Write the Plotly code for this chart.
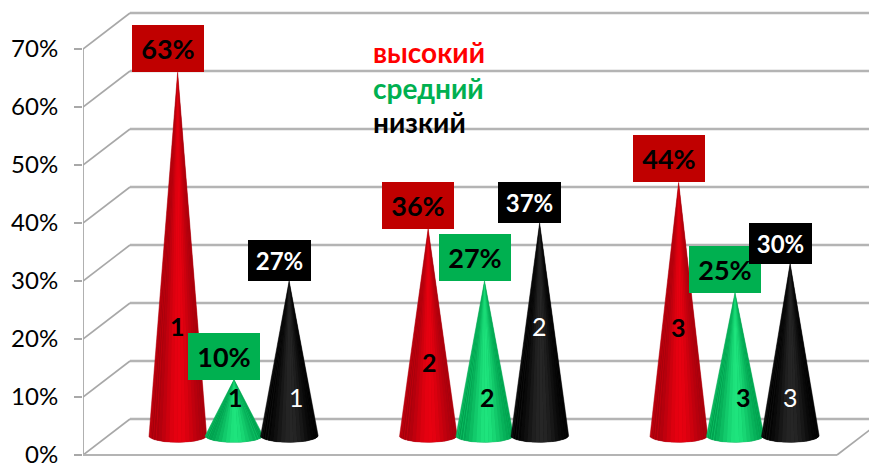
import math
import plotly.graph_objects as go

# ---- data ----
categories = [1, 2, 3]
vysokiy = [63, 36, 44]
sredniy = [10, 27, 25]
nizkiy = [27, 37, 30]
y_ticks = [0, 10, 20, 30, 40, 50, 60, 70]
tick_labels = ["0%", "10%", "20%", "30%", "40%", "50%", "60%", "70%"]

# ---- layout constants ----
W, H = 869, 465
LEFT = 83
PX_PER_UNIT = 5.8          # pixels per percentage point
PX_PER_CAT = 250.5
XMIN = 1 + (LEFT - 234) / PX_PER_CAT
XMAX = XMIN + (W - LEFT) / PX_PER_CAT
YMIN = -10 / PX_PER_UNIT
YMAX = 455 / PX_PER_UNIT
DX = 47 / PX_PER_CAT       # depth of the 3D box
DY = 36 / PX_PER_UNIT
BASE = 3.0                 # value origin above the floor's front edge
BASE_C = 3.35              # centre of the cone's base ellipse
OFFS = [-0.225, 0.0, 0.22]
HALF_W = 29 / PX_PER_CAT
ELL = 6.8 / PX_PER_UNIT
GRID = "#b4b4b4"
AXIS = "#a8a8a8"
FONT = "Lato, 'Open Sans', sans-serif"

SERIES = [
    dict(name="высокий", v=vysokiy, edge=(165, 0, 12), mid=(232, 0, 16), box="#C00000", txt="black", size=27,
         w=72, h=47, lbl_y=[22.2, 16, 22], lbl_dx=[0, 1, 0], bold=True, legend="#FF0000", ly=52),
    dict(name="средний", v=sredniy, edge=(0, 160, 78), mid=(30, 228, 125), box="#00B050", txt="black", size=27,
         w=72, h=47, lbl_y=[10, 10, 10], lbl_dx=[1, 3, 8], bold=True, legend="#00B050", ly=88),
    dict(name="низкий", v=nizkiy, edge=(0, 0, 0), mid=(38, 38, 38), box="#000000", txt="white", size=24,
         w=63, h=41, lbl_y=[10, 22.2, 10], lbl_dx=[7, 0, 0], bold=False, legend="#000000", ly=122),
]

fig = go.Figure()


def line(xs, ys, color=GRID, width=2.4):
    fig.add_trace(go.Scatter(x=xs, y=ys, mode="lines", line=dict(color=color, width=width),
                             hoverinfo="skip", showlegend=False, cliponaxis=False))


x0 = XMIN
for t in y_ticks:
    line([x0 + DX, XMAX + 0.1], [t + DY, t + DY], GRID, 2.6)
    line([x0, x0 + DX], [t, t + DY], AXIS, 1.6)
line([x0, x0], [0, 70], AXIS, 1.8)
line([x0, x0 + (837 - LEFT) / PX_PER_CAT], [0, 0], GRID, 2.2)
line([x0 + (837 - LEFT) / PX_PER_CAT, x0 + (837 - LEFT + DX * PX_PER_CAT) / PX_PER_CAT], [0, DY], AXIS, 1.6)


def shade(s, t):
    k = max(0.0, 1 - ((t - 0.06) / 1.06) ** 2) ** 3
    return "rgb(%d,%d,%d)" % tuple(round(a + (b - a) * k) for a, b in zip(s["edge"], s["mid"]))


STRIPS = 22
for s in SERIES:
    off = OFFS[SERIES.index(s)]
    for cat, val in zip(categories, s["v"]):
        cx = cat + off
        tip = val + BASE
        arc = [math.pi * j / 40 for j in range(41)]
        fig.add_trace(go.Scatter(
            x=[cx] + [cx - HALF_W * math.cos(a) for a in arc] + [cx],
            y=[tip] + [BASE_C - ELL * math.sin(a) for a in arc] + [tip],
            mode="lines", fill="toself", fillcolor=shade(s, 0.5),
            line=dict(color=shade(s, 1.0), width=0.5), hoverinfo="skip", showlegend=False))
        for i in range(STRIPS):
            a0 = math.pi * i / STRIPS
            a1 = math.pi * (i + 1) / STRIPS
            xs = [cx]
            ys = [tip]
            for j in range(5):
                a = a0 + (a1 - a0) * j / 4
                xs.append(cx - HALF_W * math.cos(a))
                ys.append(BASE_C - ELL * math.sin(a))
            xs.append(cx)
            ys.append(tip)
            col = shade(s, -math.cos((a0 + a1) / 2))
            fig.add_trace(go.Scatter(x=xs, y=ys, mode="lines", fill="toself", fillcolor=col,
                                     line=dict(width=0), hoverinfo="skip", showlegend=False))

annotations = []
for idx, s in enumerate(SERIES):
    for i, (cat, val) in enumerate(zip(categories, s["v"])):
        cx = cat + OFFS[idx]
        annotations.append(dict(
            x=cx, y=val + BASE, xref="x", yref="y", xanchor="center", yanchor="bottom",
            xshift=-10, yshift=0, showarrow=False, width=s["w"], height=s["h"],
            bgcolor=s["box"], borderpad=0, borderwidth=0, align="center", valign="middle",
            text="<b>%d%%</b>" % val, font=dict(family=FONT, size=s["size"], color=s["txt"])))
        annotations.append(dict(
            x=cx, y=s["lbl_y"][i], xref="x", yref="y", xanchor="center", yanchor="middle",
            xshift=s["lbl_dx"][i], showarrow=False,
            text=("<b>%d</b>" if s["bold"] else "%d") % cat,
            font=dict(family=FONT, size=25, color="black" if s["bold"] else "white")))
    annotations.append(dict(
        x=(371 - LEFT) / (W - LEFT), y=1 - s["ly"] / H, xref="paper", yref="paper",
        xanchor="left", yanchor="middle", showarrow=False,
        text="<b>%s</b>" % s["name"], font=dict(family=FONT, size=28, color=s["legend"])))

fig.update_layout(
    width=W, height=H,
    margin=dict(l=LEFT, r=0, t=0, b=0, pad=0),
    paper_bgcolor="white", plot_bgcolor="white",
    showlegend=False,
    xaxis=dict(range=[XMIN, XMAX], visible=False, fixedrange=True),
    yaxis=dict(range=[YMIN, YMAX], tickmode="array", tickvals=y_ticks, ticktext=tick_labels,
               showgrid=False, zeroline=False, showline=False,
               ticks="outside", ticklen=8, tickwidth=2, tickcolor=AXIS,
               ticklabelstandoff=11, ticklabeloverflow="allow", automargin=False,
               tickfont=dict(family=FONT, size=24, color="black"), fixedrange=True),
    annotations=annotations,
)
fig.write_html("out.html", config=dict(displayModeBar=False),
               post_script="document.body.style.margin='0';document.body.style.overflow='hidden';")
